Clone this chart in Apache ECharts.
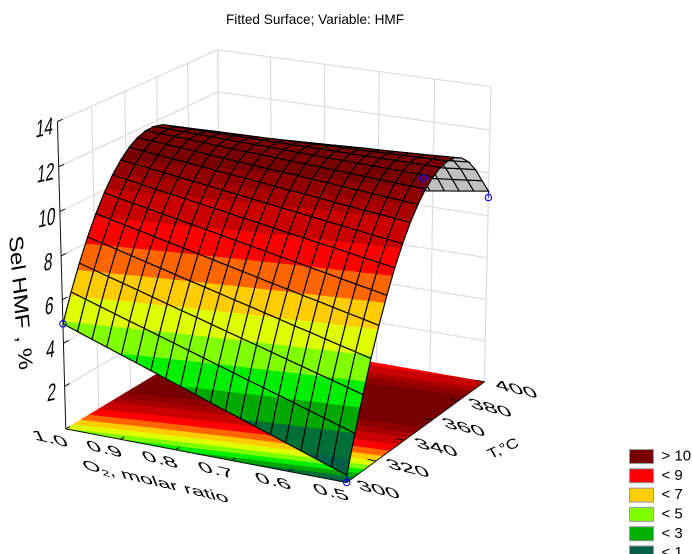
<!DOCTYPE html>
<html>
<head>
<meta charset="utf-8">
<style>html,body{margin:0;padding:0;background:#fff;overflow:hidden}#c{width:692px;height:554px}</style>
<script src="https://cdn.jsdelivr.net/npm/echarts@6/dist/echarts.min.js"></script>
</head>
<body>
<div id="c"></div>
<script>
// Values. Each row is one temperature node, O2 from 1.0 to 0.5.
const row00=[4.90,4.66,4.42,4.18,3.94,3.70,3.46,3.22,2.98,2.74,2.49,2.25,2.01,1.77,1.53,1.29,1.05,.81,.57,.33];
const row01=[6.14,5.92,5.70,5.48,5.26,5.05,4.83,4.61,4.39,4.17,3.95,3.73,3.51,3.30,3.08,2.86,2.64,2.42,2.20,1.98];
const row02=[7.25,7.05,6.85,6.66,6.46,6.26,6.06,5.86,5.67,5.47,5.27,5.07,4.88,4.68,4.48,4.28,4.08,3.89,3.69,3.49];
const row03=[8.24,8.06,7.89,7.71,7.53,7.36,7.18,7.00,6.83,6.65,6.47,6.30,6.12,5.94,5.76,5.59,5.41,5.23,5.06,4.88];
const row04=[9.11,8.95,8.80,8.64,8.48,8.33,8.17,8.02,7.86,7.70,7.55,7.39,7.23,7.08,6.92,6.77,6.61,6.45,6.30,6.14];
const row05=[9.86,9.72,9.59,9.45,9.31,9.18,9.04,8.91,8.77,8.63,8.50,8.36,8.22,8.09,7.95,7.82,7.68,7.54,7.41,7.27];
const row06=[10.49,10.37,10.26,10.14,10.02,9.91,9.79,9.68,9.56,9.44,9.33,9.21,9.09,8.98,8.86,8.75,8.63,8.51,8.40,8.28];
const row07=[10.99,10.89,10.80,10.70,10.60,10.51,10.41,10.31,10.22,10.12,10.02,9.92,9.83,9.73,9.63,9.54,9.44,9.34,9.25,9.15];
const row08=[11.38,11.30,11.22,11.15,11.07,10.99,10.91,10.83,10.76,10.68,10.60,10.52,10.45,10.37,10.29,10.21,10.13,10.06,9.98,9.90];
const row09=[11.64,11.58,11.52,11.46,11.40,11.34,11.28,11.22,11.16,11.10,11.05,10.99,10.93,10.87,10.81,10.75,10.69,10.63,10.57,10.51];
const row10=[11.78,11.74,11.70,11.66,11.62,11.57,11.53,11.49,11.45,11.41,11.37,11.33,11.29,11.25,11.20,11.16,11.12,11.08,11.04,11.00];
const row11=[11.79,11.77,11.74,11.72,11.70,11.68,11.65,11.63,11.61,11.59,11.56,11.54,11.52,11.50,11.47,11.45,11.43,11.41,11.38,11.36];
const row12=[11.69,11.68,11.68,11.67,11.67,11.66,11.66,11.65,11.65,11.64,11.64,11.63,11.63,11.62,11.62,11.61,11.61,11.60,11.60,11.59];
const row13=[11.46,11.47,11.48,11.50,11.51,11.52,11.53,11.54,11.56,11.57,11.58,11.59,11.61,11.62,11.63,11.64,11.65,11.67,11.68,11.69];
const row14=[11.11,11.14,11.17,11.20,11.23,11.25,11.28,11.31,11.34,11.37,11.40,11.43,11.46,11.49,11.51,11.54,11.57,11.60,11.63,11.66];
const row15=[10.64,10.68,10.73,10.77,10.81,10.85,10.90,10.94,10.98,11.02,11.07,11.11,11.15,11.19,11.24,11.28,11.32,11.36,11.41,11.45];
const row16=[10.05,10.10,10.16,10.21,10.27,10.32,10.38,10.43,10.48,10.54,10.59,10.65,10.70,10.75,10.81,10.86,10.92,10.97,11.03,11.08];
const row17=[9.34,9.40,9.47,9.53,9.59,9.66,9.72,9.78,9.85,9.91,9.97,10.03,10.10,10.16,10.22,10.29,10.35,10.41,10.48,10.54];
const row18=[8.50,8.57,8.64,8.71,8.78,8.85,8.92,8.99,9.06,9.13,9.20,9.27,9.34,9.41,9.48,9.55,9.62,9.69,9.76,9.83];
const row19=[7.54,7.61,7.69,7.76,7.84,7.91,7.99,8.06,8.13,8.21,8.28,8.36,8.43,8.50,8.65,8.75,8.85,8.95,9.05,9.15];
const surfaceRows=[row00,row01,row02,row03,row04,row05,row06,row07,row08,row09,row10,row11,row12,row13,row14,row15,row16,row17,row18,row19];

const o2Ticks=[1.0,0.9,0.8,0.7,0.6,0.5];
const tempTicks=[300,320,340,360,380,400];
const selTicks=[2,4,6,8,10,12,14];
const bandLevels=[1,2,3,4,5,6,7,8,9,10,10.5,11];
const bandColors=['#006048','#006f38','#00a800','#00ee00','#7fff00','#dfff00','#ffcc00','#ff6600','#ff0000','#c80000','#a80000','#900000','#780000'];
const legendNames=['> 10','< 9','< 7','< 5','< 3','< 1'];
const legendColors=['#780000','#ff0000','#ffcc00','#7fff00','#00b000','#006048'];
// observed points: O2, T, Sel; and the fitted value under each
const obsO2=[1.0,0.5,0.5,0.5];
const obsT=[300,300,351,400];
const obsSel=[4.9,0,11.55,8.85];
const obsFit=[4.9,0.33,10.85,9.15];

const FONT='"Liberation Sans", Arial, sans-serif';
const O_MIN=0.5,O_MAX=1.0,T_MIN=300,T_MAX=400,Z_MAX=14;

// ---- camera: a projective matrix fitted to the box corners seen in the picture
const anchors=[
 [0,0,0,65,427],[1,0,0,347,484],[1,1,0,484,380],[0,1,0,221,338],
 [0,0,1,58,122],[0,1,1,217,49],[1,1,1,491,87]
];
function solveCamera(){
  const A=[],b=[];
  anchors.forEach(([u,v,w,x,y])=>{
    A.push([u,v,w,1,0,0,0,0,-x*u,-x*v,-x*w]);b.push(x);
    A.push([0,0,0,0,u,v,w,1,-y*u,-y*v,-y*w]);b.push(y);
  });
  const n=11,N=[];
  for(let r=0;r<n;r++){N.push(new Array(n+1).fill(0));
    for(let c=0;c<n;c++)for(let k=0;k<A.length;k++)N[r][c]+=A[k][r]*A[k][c];
    for(let k=0;k<A.length;k++)N[r][n]+=A[k][r]*b[k];}
  for(let c=0;c<n;c++){let p=c;for(let r=c+1;r<n;r++)if(Math.abs(N[r][c])>Math.abs(N[p][c]))p=r;
    [N[c],N[p]]=[N[p],N[c]];
    for(let r=0;r<n;r++){if(r===c)continue;const f=N[r][c]/N[c][c];for(let k=c;k<=n;k++)N[r][k]-=f*N[c][k];}}
  return N.map((row,i)=>row[n]/row[i]);
}
const P=solveCamera();
function project(u,v,w){
  const d=P[8]*u+P[9]*v+P[10]*w+1;
  return [(P[0]*u+P[1]*v+P[2]*w+P[3])/d,(P[4]*u+P[5]*v+P[6]*w+P[7])/d];
}
function depth(u,v,w){return P[8]*u+P[9]*v+P[10]*w+1;}
const uOf=o=>(O_MAX-o)/(O_MAX-O_MIN), vOf=t=>(t-T_MIN)/(T_MAX-T_MIN), wOf=z=>z/Z_MAX;
const pt=(o,t,z)=>project(uOf(o),vOf(t),wOf(z));

const nT=surfaceRows.length,nO=surfaceRows[0].length;
function nodeU(i){return i/(nO-1);} function nodeV(j){return j/(nT-1);}

// ---- contour clipping of one cell
function clipAbove(poly,lim,sign){
  const out=[];
  for(let k=0;k<poly.length;k++){
    const a=poly[k],b=poly[(k+1)%poly.length];
    const ia=sign*(a[2]-lim)>=0, ib=sign*(b[2]-lim)>=0;
    if(ia)out.push(a);
    if(ia!==ib){const t=(lim-a[2])/(b[2]-a[2]);out.push([a[0]+t*(b[0]-a[0]),a[1]+t*(b[1]-a[1]),lim,a[3]+t*(b[3]-a[3])]);}
  }
  return out;
}
function cellPoly(i,j,flat){
  const idx=[[i,j],[i+1,j],[i+1,j+1],[i,j+1]];
  return idx.map(([a,b])=>{const z=surfaceRows[b][a];return [nodeU(a),nodeV(b),z,flat?0:z];});
}
function bandShape(poly,b){
  let p=poly;
  if(b>0)p=clipAbove(p,bandLevels[b-1],1);
  if(p.length&&b<bandLevels.length)p=clipAbove(p,bandLevels[b],-1);
  if(p.length<3)return null;
  const color=bandColors[b];
  return {type:'polygon',shape:{points:p.map(q=>project(q[0],q[1],wOf(q[3])))},
    style:{fill:color,stroke:color,lineWidth:0.7}};
}
const cells=[];
for(let j=0;j<nT-1;j++)for(let i=0;i<nO-1;i++){
  const d=depth(nodeU(i)+.5/(nO-1),nodeV(j)+.5/(nT-1),wOf((surfaceRows[j][i]+surfaceRows[j+1][i+1])/2));
  cells.push([i,j,d]);
}
cells.sort((a,b)=>b[2]-a[2]);

// the floor is drawn band by band, so neighbouring cells share one clean contour edge
function renderFloorBand(params,api){
  const b=api.value(0),children=[];
  cells.forEach(([i,j])=>{const s=bandShape(cellPoly(i,j,true),b);if(s)children.push(s);});
  return {type:'group',children};
}
function renderSurface(params,api){
  const poly=cellPoly(api.value(0),api.value(1),false);
  const pts=poly.map(q=>project(q[0],q[1],wOf(q[3])));
  let area=0;
  for(let k=0;k<4;k++){const a=pts[k],b=pts[(k+1)%4];area+=a[0]*b[1]-b[0]*a[1];}
  const children=[];
  if(area<0){bandColors.forEach((c,b)=>{const s=bandShape(poly,b);if(s)children.push(s);});}
  else children.push({type:'polygon',shape:{points:pts},style:{fill:'#c0c0c0',stroke:'#c0c0c0',lineWidth:0.7}});
  children.push({type:'polygon',shape:{points:pts},style:{fill:'none',stroke:'#000',lineWidth:1.15}});
  return {type:'group',children};
}

// ---- box, grid, axes
function seg(a,b,color,w,dash){
  return {type:'line',shape:{x1:a[0],y1:a[1],x2:b[0],y2:b[1]},style:{stroke:color,lineWidth:w,lineDash:dash||null,fill:null}};
}
const GRID='#dcdcdc';
function renderWalls(){
  const c=[];
  selTicks.forEach(z=>{const w=wOf(z);
    c.push(seg(project(0,0,w),project(0,1,w),GRID,1.2));
    c.push(seg(project(0,1,w),project(1,1,w),GRID,1.2));});
  tempTicks.forEach(t=>{const v=vOf(t);if(v>0)c.push(seg(project(0,v,0),project(0,v,1),GRID,1.2));});
  o2Ticks.forEach(o=>{const u=uOf(o);c.push(seg(project(u,1,0),project(u,1,1),GRID,1.2));});
  return {type:'group',children:c};
}
function affineText(text,cx,cy,right,down,size,rich){
  const [a,b]=right,[c,d]=down;
  const E=(a+d)/2,F=(a-d)/2,G=(b+c)/2,H=(b-c)/2;
  const Q=Math.hypot(E,H),R=Math.hypot(F,G);
  const a1=Math.atan2(G,F),a2=Math.atan2(H,E);
  const theta=(a2-a1)/2,phi=(a2+a1)/2;
  const style={text,x:0,y:0,fontFamily:FONT,fontSize:size,fill:'#000',align:'center',verticalAlign:'middle'};
  if(rich)style.rich=rich;
  return {type:'group',x:cx,y:cy,rotation:-phi,scaleX:Q+R,scaleY:Q-R,children:[
    {type:'text',rotation:-theta,style}
  ]};
}
const FLAT_R=[1.8,0.42],FLAT_D=[0.5,1.05];
function renderAxes(){
  const c=[];
  const AX='#111';
  c.push(seg(project(0,0,0),project(1,0,0),AX,1));
  c.push(seg(project(1,0,0),project(1,1,0),AX,1));
  c.push(seg(project(0,0,0),project(0,0,1),AX,1));
  selTicks.forEach(z=>{const w=wOf(z),a=project(0,0,w);
    c.push(seg(a,project(0,0.03,w),AX,1));
    c.push(affineText(String(z),a[0]-13,a[1]+7.5,[1.1,-0.24],[-0.15,1.75],14));});
  o2Ticks.forEach(o=>{const u=uOf(o),a=project(u,0,0);
    c.push(seg(a,project(u,0.025,0),AX,1));
    c.push(affineText(o.toFixed(1),a[0]-15.5,a[1]+10.5,FLAT_R,FLAT_D,14));});
  tempTicks.forEach(t=>{const v=vOf(t),a=project(1,v,0);
    c.push(seg(a,project(0.97,v,0),AX,1));
    c.push(affineText(String(t),a[0]+32,a[1]+8,FLAT_R,FLAT_D,14));});
  const mo=project(.5,0,0),mt=project(1,.5,0),mz=project(0,0,.5);
  c.push(affineText('{a|O}{s|2}{a|, molar ratio}',mo[0]-48,mo[1]+27,[1.62,0.38],[0.4,1.0],14,{
    a:{fontFamily:FONT,fontSize:14,fill:'#000',lineHeight:16,verticalAlign:'middle'},
    s:{fontFamily:FONT,fontSize:9,fill:'#000',lineHeight:16,verticalAlign:'bottom'}}));
  c.push(affineText('T,\u00b0C',mt[0]+85,mt[1]+19,[1.1,-0.5],[0.5,0.9],14));
  c.push(affineText('Sel HMF , %',mz[0]-42,mz[1]+25,[0.13,1.7],[-1.4,0.25],14));
  return {type:'group',children:c};
}
function renderPoints(params){
  const k=params.dataIndex;
  const p=pt(obsO2[k],obsT[k],obsSel[k]),q=pt(obsO2[k],obsT[k],obsFit[k]);
  return {type:'group',children:[
    seg(p,q,'#0000dd',1.2,[2,2]),
    {type:'circle',shape:{cx:p[0],cy:p[1],r:3.2},style:{fill:'none',stroke:'#0000dd',lineWidth:1.1}}
  ]};
}

const chart=echarts.init(document.getElementById('c'),null,{renderer:'canvas',devicePixelRatio:2});
const legendSeries=legendNames.map((n,k)=>({type:'custom',name:n,coordinateSystem:'none',silent:true,
  itemStyle:{color:legendColors[k]},data:[],renderItem:()=>null}));
chart.setOption({
  animation:false,
  backgroundColor:'#fff',
  title:{text:'Fitted Surface; Variable: HMF',left:226,top:13,padding:0,
    textStyle:{fontFamily:FONT,fontSize:13.6,fontWeight:'normal',color:'#000'}},
  legend:{data:legendNames,orient:'vertical',left:629,top:449,width:63,height:130,padding:0,itemWidth:24,itemHeight:14,itemGap:4.3,
    icon:'rect',selectedMode:false,itemStyle:{borderColor:'#999',borderWidth:1},
    textStyle:{fontFamily:FONT,fontSize:15,lineHeight:14,color:'#000',padding:[0,0,0,3]}},
  series:[
    {type:'custom',name:'walls',coordinateSystem:'none',silent:true,z:1,data:[0],renderItem:renderWalls},
    {type:'custom',name:'floor contours',coordinateSystem:'none',silent:true,z:2,progressive:0,data:bandColors.map((c,b)=>[b]),renderItem:renderFloorBand},
    {type:'custom',name:'axes',coordinateSystem:'none',silent:true,z:3,data:[0],renderItem:renderAxes},
    {type:'custom',name:'surface',coordinateSystem:'none',silent:true,z:4,progressive:0,data:cells,renderItem:renderSurface},
    {type:'custom',name:'observed',coordinateSystem:'none',silent:true,z:5,
      data:obsO2.map((o,k)=>[o,obsT[k],obsSel[k]]),renderItem:renderPoints}
  ].concat(legendSeries)
});
</script>
</body>
</html>
